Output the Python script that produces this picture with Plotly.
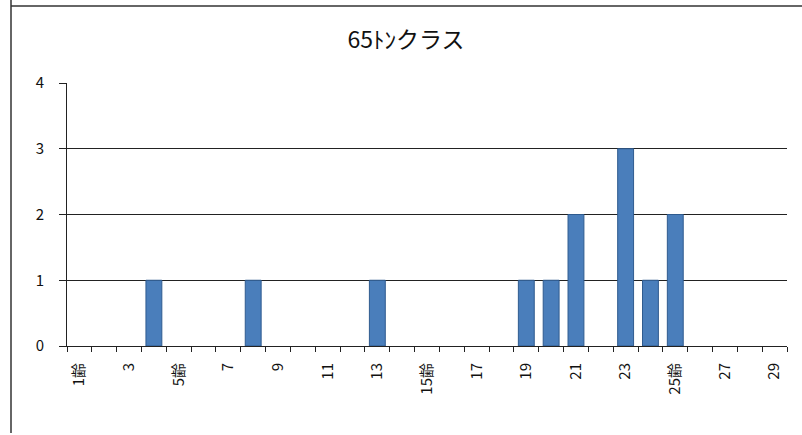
import plotly.graph_objects as go

categories = [str(i) for i in range(1, 30)]
tick_labels = ["1齢" if i == 1 else "5齢" if i == 5 else "15齢" if i == 15 else "25齢" if i == 25
               else (str(i) if i % 2 == 1 else "") for i in range(1, 30)]
values = [0, 0, 0, 1, 0, 0, 0, 1, 0, 0, 0, 0, 1, 0, 0, 0, 0, 0, 1, 1, 2, 0, 3, 1, 2, 0, 0, 0, 0]
title_text = "65ﾄﾝクラス"

FONT = "Noto Sans CJK JP, DejaVu Sans, sans-serif"
W, H = 802, 435
L, R, T, B = 67, 15, 83, 89
pw, ph = W - L - R, H - T - B

fig = go.Figure(go.Bar(
    x=categories, y=values,
    marker=dict(color="#4a7ebb",
                line=dict(color="#2f5b8f", width=[1 if v > 0 else 0 for v in values])),
    width=0.64,
))

fig.update_layout(
    width=W, height=H,
    margin=dict(l=L, r=R, t=T, b=B),
    paper_bgcolor="white", plot_bgcolor="white",
    showlegend=False,
    font=dict(family=FONT, color="#111", size=14),
    title=dict(text=title_text, x=406 / W, xanchor="center", y=1 - 40 / H, yanchor="middle",
               font=dict(size=23, family=FONT, color="#111")),
    xaxis=dict(
        type="category", tickmode="array", tickvals=categories, ticktext=tick_labels,
        tickangle=-90, tickson="boundaries", ticks="outside", ticklen=5, tickcolor="#222",
        showline=True, linecolor="#222", linewidth=1, showgrid=False,
        tickfont=dict(size=15, family=FONT), range=[-0.5, 28.5], ticklabelstandoff=10,
    ),
    yaxis=dict(
        range=[0, 4], dtick=1, tick0=0, showgrid=True, gridcolor="#222", gridwidth=1,
        showline=True, linecolor="#222", linewidth=1, ticks="outside", ticklen=7,
        tickcolor="#222", tickfont=dict(size=15, family=FONT), zeroline=False,
        ticklabelstandoff=12,
    ),
    shapes=[
        dict(type="line", xref="paper", yref="paper",
             x0=(11 - L) / pw, x1=(11 - L) / pw, y0=(H - B - 0) / ph, y1=(H - B - 433) / ph,
             line=dict(color="#333", width=1.5)),
        dict(type="line", xref="paper", yref="paper",
             x0=(11 - L) / pw, x1=(802 - L) / pw, y0=(H - B - 6) / ph, y1=(H - B - 6) / ph,
             line=dict(color="#333", width=1.5)),
    ],
)

fig.write_html("out.html")
